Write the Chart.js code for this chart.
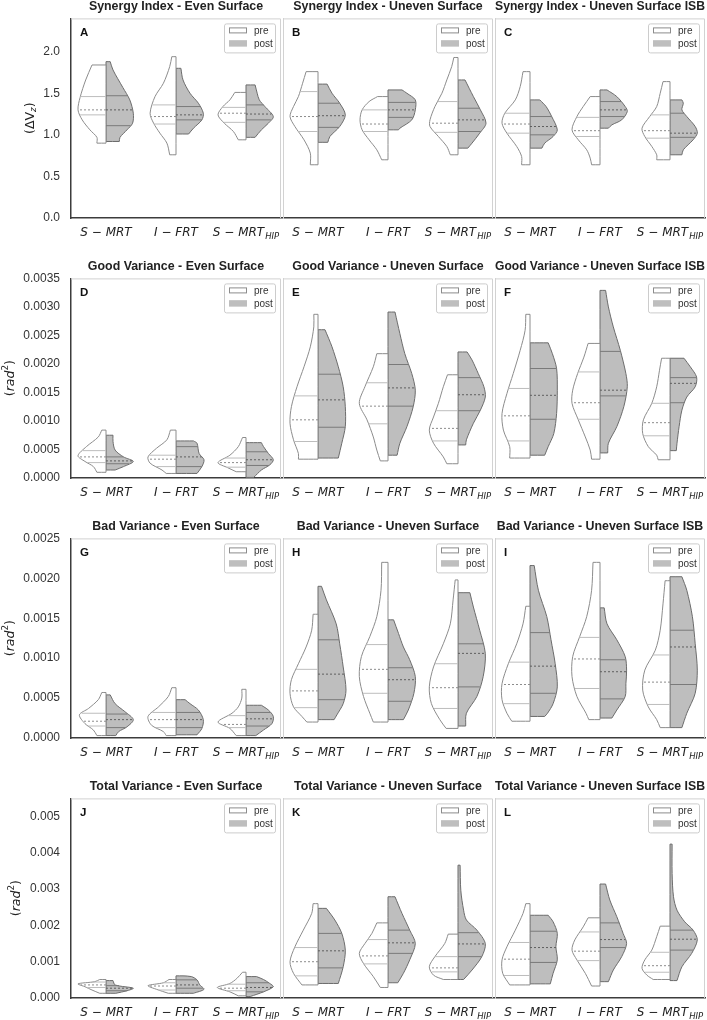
<!DOCTYPE html>
<html>
<head>
<meta charset="utf-8">
<script src="https://cdn.jsdelivr.net/npm/chart.js"></script>
<style>
  body { margin: 0; background: #fff; }
  #page { position: relative; width: 707px; height: 1020px; overflow: hidden; }
  #page canvas { position: absolute; }
</style>
</head>
<body>
<div id="page"></div>
<script>
// categories and labels
const groupNames = ['S − MRT', 'I − FRT', 'S − MRT'];
const groupSubs = ['', '', 'HIP'];
const seriesNames = ['pre', 'post'];
const panelLetters = ['A', 'B', 'C', 'D', 'E', 'F', 'G', 'H', 'I', 'J', 'K', 'L'];
const panelTitles = [
    'Synergy Index - Even Surface', 'Synergy Index - Uneven Surface', 'Synergy Index - Uneven Surface ISB',
    'Good Variance - Even Surface', 'Good Variance - Uneven Surface', 'Good Variance - Uneven Surface ISB',
    'Bad Variance - Even Surface', 'Bad Variance - Uneven Surface', 'Bad Variance - Uneven Surface ISB',
    'Total Variance - Even Surface', 'Total Variance - Uneven Surface', 'Total Variance - Uneven Surface ISB'
];
// y axes, one per row
const rowMax = [2.4, 0.0035, 0.0025, 0.0055];
const rowStep = [0.5, 0.0005, 0.0005, 0.001];
const rowDigits = [1, 4, 4, 3];
const rowUnits = ['dv', 'rad', 'rad', 'rad'];

// violin outlines: [value, half width (share of a category)] from top to bottom
// quartiles: [q75, median, q25]
const preA = [
    [[1.84, 0.20], [1.66, 0.29], [1.45, 0.37], [1.30, 0.40], [1.18, 0.34], [1.06, 0.23], [0.97, 0.13], [0.90, 0.13]],
    [[1.94, 0.06], [1.82, 0.09], [1.62, 0.18], [1.46, 0.30], [1.26, 0.37], [1.14, 0.32], [1.02, 0.23], [0.90, 0.13], [0.76, 0.09]],
    [[1.51, 0.16], [1.42, 0.23], [1.34, 0.33], [1.24, 0.40], [1.14, 0.31], [1.04, 0.18], [0.94, 0.11]]
];
const postA = [
    [[1.88, 0.06], [1.78, 0.10], [1.57, 0.24], [1.42, 0.34], [1.26, 0.39], [1.14, 0.38], [1.06, 0.30], [0.97, 0.20], [0.92, 0.19]],
    [[1.80, 0.07], [1.66, 0.10], [1.50, 0.20], [1.38, 0.32], [1.26, 0.39], [1.18, 0.37], [1.08, 0.25], [1.01, 0.18]],
    [[1.60, 0.13], [1.50, 0.16], [1.42, 0.19], [1.34, 0.27], [1.22, 0.39], [1.14, 0.32], [1.06, 0.22], [0.97, 0.13]]
];
const quartPreA = [[1.46, 1.30, 1.24], [1.36, 1.22, 1.13], [1.33, 1.26, 1.15]];
const quartPostA = [[1.47, 1.30, 1.11], [1.34, 1.24, 1.18], [1.36, 1.25, 1.18]];

const preB = [
    [[1.76, 0.17], [1.62, 0.22], [1.46, 0.28], [1.34, 0.35], [1.22, 0.40], [1.10, 0.33], [0.94, 0.20], [0.78, 0.11], [0.64, 0.11]],
    [[1.46, 0.15], [1.40, 0.27], [1.30, 0.37], [1.18, 0.40], [1.06, 0.37], [0.94, 0.27], [0.82, 0.16], [0.70, 0.09]],
    [[1.93, 0.06], [1.82, 0.09], [1.66, 0.16], [1.50, 0.23], [1.34, 0.33], [1.18, 0.40], [1.10, 0.40], [0.98, 0.28], [0.86, 0.16], [0.76, 0.11]]
];
const postB = [
    [[1.61, 0.13], [1.50, 0.20], [1.38, 0.31], [1.24, 0.39], [1.10, 0.31], [0.98, 0.17], [0.91, 0.14]],
    [[1.54, 0.20], [1.50, 0.27], [1.42, 0.39], [1.30, 0.39], [1.18, 0.34], [1.08, 0.17], [1.06, 0.15]],
    [[1.66, 0.10], [1.46, 0.22], [1.30, 0.32], [1.14, 0.40], [1.02, 0.31], [0.90, 0.20], [0.84, 0.14]]
];
const quartPreB = [[1.52, 1.22, 1.04], [1.30, 1.13, 1.04], [1.40, 1.14, 1.03]];
const quartPostB = [[1.38, 1.23, 1.09], [1.39, 1.30, 1.21], [1.32, 1.18, 1.04]];

const preC = [
    [[1.76, 0.10], [1.58, 0.14], [1.42, 0.21], [1.26, 0.36], [1.14, 0.40], [1.02, 0.33], [0.86, 0.19], [0.74, 0.12], [0.64, 0.12]],
    [[1.46, 0.14], [1.34, 0.24], [1.22, 0.33], [1.06, 0.40], [0.94, 0.31], [0.82, 0.19], [0.72, 0.14], [0.64, 0.12]],
    [[1.64, 0.10], [1.50, 0.14], [1.34, 0.19], [1.22, 0.29], [1.08, 0.40], [0.98, 0.36], [0.86, 0.26], [0.76, 0.19], [0.70, 0.19]]
];
const postC = [
    [[1.42, 0.14], [1.34, 0.23], [1.22, 0.31], [1.06, 0.39], [0.98, 0.33], [0.90, 0.21], [0.84, 0.17]],
    [[1.54, 0.10], [1.46, 0.24], [1.34, 0.36], [1.28, 0.39], [1.18, 0.31], [1.12, 0.17], [1.08, 0.12]],
    [[1.42, 0.17], [1.38, 0.19], [1.30, 0.17], [1.22, 0.24], [1.10, 0.36], [1.02, 0.39], [0.94, 0.33], [0.82, 0.19], [0.76, 0.17]]
];
const quartPreC = [[1.26, 1.13, 1.02], [1.21, 1.05, 0.98], [1.24, 1.05, 0.96]];
const quartPostC = [[1.22, 1.10, 1.00], [1.40, 1.30, 1.22], [1.26, 1.02, 0.97]];

const preD = [
    [[0.00084, 0.06], [0.00072, 0.11], [0.00055, 0.28], [0.00039, 0.40], [0.00029, 0.30], [0.00020, 0.18], [0.00010, 0.13]],
    [[0.00084, 0.08], [0.00067, 0.13], [0.00052, 0.28], [0.00037, 0.40], [0.00026, 0.37], [0.00014, 0.20], [0.00008, 0.14]],
    [[0.00071, 0.05], [0.00055, 0.11], [0.00040, 0.23], [0.00027, 0.40], [0.00018, 0.26], [0.00011, 0.14]]
];
const postD = [
    [[0.00075, 0.10], [0.00064, 0.10], [0.00049, 0.13], [0.00037, 0.25], [0.00029, 0.39], [0.00020, 0.25], [0.00014, 0.13]],
    [[0.00065, 0.25], [0.00061, 0.30], [0.00043, 0.33], [0.00032, 0.40], [0.00020, 0.37], [0.00008, 0.30]],
    [[0.00062, 0.22], [0.00055, 0.25], [0.00043, 0.32], [0.00032, 0.39], [0.00023, 0.34], [0.00014, 0.22], [0.00001, 0.11]]
];
const quartPreD = [[0.00048, 0.00037, 0.00027], [0.00040, 0.00033, 0.00020], [0.00035, 0.00027, 0.00019]];
const quartPostD = [[0.00037, 0.00030, 0.00025], [0.00055, 0.00037, 0.00020], [0.00046, 0.00032, 0.00022]];

const preE = [
    [[0.00287, 0.06], [0.00265, 0.06], [0.00230, 0.11], [0.00195, 0.20], [0.00160, 0.30], [0.00125, 0.38], [0.00096, 0.40], [0.00067, 0.35], [0.00043, 0.28], [0.00033, 0.28]],
    [[0.00218, 0.16], [0.00195, 0.21], [0.00160, 0.33], [0.00131, 0.41], [0.00102, 0.30], [0.00072, 0.21], [0.00049, 0.16], [0.00030, 0.11]],
    [[0.00181, 0.15], [0.00160, 0.21], [0.00131, 0.28], [0.00107, 0.35], [0.00084, 0.41], [0.00061, 0.35], [0.00037, 0.21], [0.00025, 0.16]]
];
const postE = [
    [[0.00260, 0.10], [0.00230, 0.20], [0.00195, 0.29], [0.00160, 0.36], [0.00125, 0.39], [0.00090, 0.39], [0.00061, 0.34], [0.00035, 0.29]],
    [[0.00291, 0.10], [0.00253, 0.17], [0.00218, 0.24], [0.00183, 0.34], [0.00154, 0.39], [0.00125, 0.36], [0.00090, 0.27], [0.00061, 0.17], [0.00040, 0.13]],
    [[0.00221, 0.13], [0.00207, 0.20], [0.00183, 0.29], [0.00160, 0.37], [0.00142, 0.39], [0.00119, 0.32], [0.00096, 0.22], [0.00067, 0.12], [0.00058, 0.11]]
];
const quartPreE = [[0.00144, 0.00102, 0.00064], [0.00167, 0.00126, 0.00095], [0.00118, 0.00087, 0.00065]];
const quartPostE = [[0.00182, 0.00137, 0.00089], [0.00199, 0.00158, 0.00126], [0.00176, 0.00146, 0.00118]];

const preF = [
    [[0.00287, 0.06], [0.00259, 0.07], [0.00224, 0.14], [0.00183, 0.24], [0.00148, 0.33], [0.00113, 0.40], [0.00084, 0.38], [0.00055, 0.29], [0.00035, 0.29]],
    [[0.00236, 0.17], [0.00212, 0.23], [0.00183, 0.32], [0.00154, 0.39], [0.00131, 0.40], [0.00102, 0.31], [0.00072, 0.21], [0.00049, 0.14], [0.00033, 0.12]],
    [[0.00210, 0.12], [0.00189, 0.15], [0.00160, 0.19], [0.00131, 0.26], [0.00102, 0.38], [0.00078, 0.39], [0.00055, 0.31], [0.00040, 0.19], [0.00032, 0.17]]
];
const postF = [
    [[0.00237, 0.26], [0.00218, 0.32], [0.00192, 0.38], [0.00154, 0.39], [0.00113, 0.38], [0.00078, 0.34], [0.00055, 0.26], [0.00040, 0.21]],
    [[0.00329, 0.08], [0.00300, 0.12], [0.00265, 0.19], [0.00224, 0.29], [0.00183, 0.37], [0.00160, 0.39], [0.00125, 0.34], [0.00090, 0.24], [0.00061, 0.12], [0.00044, 0.11]],
    [[0.00210, 0.20], [0.00195, 0.29], [0.00177, 0.38], [0.00160, 0.36], [0.00142, 0.24], [0.00119, 0.17], [0.00090, 0.13], [0.00061, 0.10], [0.00048, 0.09]]
];
const quartPreF = [[0.00157, 0.00109, 0.00065], [0.00186, 0.00132, 0.00103], [0.00131, 0.00097, 0.00074]];
const quartPostF = [[0.00192, 0.00145, 0.00103], [0.00222, 0.00154, 0.00144], [0.00176, 0.00166, 0.00132]];

const preG = [
    [[0.00057, 0.06], [0.00048, 0.11], [0.00037, 0.25], [0.00029, 0.38], [0.00018, 0.30], [0.00010, 0.18], [0.00003, 0.13]],
    [[0.00063, 0.06], [0.00052, 0.11], [0.00039, 0.25], [0.00027, 0.40], [0.00016, 0.35], [0.00008, 0.18], [0.00003, 0.14]],
    [[0.00061, 0.06], [0.00050, 0.06], [0.00039, 0.11], [0.00031, 0.20], [0.00020, 0.40], [0.00012, 0.23], [0.00003, 0.14]]
];
const postG = [
    [[0.00054, 0.06], [0.00043, 0.13], [0.00033, 0.27], [0.00023, 0.39], [0.00014, 0.30], [0.00008, 0.18], [0.00003, 0.14]],
    [[0.00048, 0.13], [0.00043, 0.20], [0.00035, 0.32], [0.00023, 0.39], [0.00012, 0.37], [0.00004, 0.30]],
    [[0.00041, 0.22], [0.00035, 0.32], [0.00027, 0.39], [0.00018, 0.37], [0.00010, 0.25], [0.00003, 0.14]]
];
const quartPreG = [[0.00031, 0.00021, 0.00015], [0.00032, 0.00023, 0.00013], [0.00028, 0.00017, 0.00013]];
const quartPostG = [[0.00030, 0.00023, 0.00013], [0.00032, 0.00023, 0.00013], [0.00032, 0.00024, 0.00015]];

const preH = [
    [[0.00155, 0.07], [0.00135, 0.09], [0.00114, 0.17], [0.00093, 0.28], [0.00073, 0.38], [0.00056, 0.40], [0.00039, 0.35], [0.00027, 0.23], [0.00020, 0.16]],
    [[0.00220, 0.09], [0.00185, 0.10], [0.00152, 0.16], [0.00127, 0.26], [0.00102, 0.38], [0.00077, 0.41], [0.00052, 0.35], [0.00031, 0.26], [0.00020, 0.21]],
    [[0.00198, 0.04], [0.00173, 0.07], [0.00143, 0.11], [0.00118, 0.21], [0.00089, 0.35], [0.00064, 0.41], [0.00043, 0.38], [0.00023, 0.26], [0.00012, 0.17]]
];
const postH = [
    [[0.00190, 0.05], [0.00173, 0.12], [0.00143, 0.26], [0.00118, 0.31], [0.00089, 0.36], [0.00060, 0.40], [0.00043, 0.36], [0.00029, 0.27], [0.00023, 0.23]],
    [[0.00148, 0.08], [0.00131, 0.15], [0.00114, 0.22], [0.00098, 0.31], [0.00077, 0.39], [0.00056, 0.37], [0.00035, 0.29], [0.00023, 0.22]],
    [[0.00182, 0.17], [0.00164, 0.22], [0.00135, 0.31], [0.00106, 0.39], [0.00077, 0.36], [0.00052, 0.27], [0.00031, 0.12], [0.00015, 0.11]]
];
const quartPreH = [[0.00086, 0.00059, 0.00038], [0.00117, 0.00086, 0.00056], [0.00093, 0.00063, 0.00037]];
const quartPostH = [[0.00123, 0.00080, 0.00048], [0.00088, 0.00073, 0.00046], [0.00118, 0.00106, 0.00064]];

const preI = [
    [[0.00165, 0.06], [0.00143, 0.10], [0.00118, 0.19], [0.00093, 0.31], [0.00068, 0.40], [0.00048, 0.40], [0.00031, 0.33], [0.00021, 0.26]],
    [[0.00220, 0.10], [0.00185, 0.12], [0.00152, 0.19], [0.00127, 0.29], [0.00102, 0.39], [0.00077, 0.40], [0.00052, 0.33], [0.00031, 0.20], [0.00023, 0.16]],
    [[0.00197, 0.07], [0.00168, 0.10], [0.00135, 0.14], [0.00110, 0.21], [0.00085, 0.36], [0.00060, 0.39], [0.00039, 0.31], [0.00023, 0.19], [0.00013, 0.14]]
];
const postI = [
    [[0.00216, 0.06], [0.00185, 0.12], [0.00152, 0.24], [0.00123, 0.30], [0.00093, 0.36], [0.00064, 0.39], [0.00043, 0.33], [0.00031, 0.25], [0.00027, 0.21]],
    [[0.00163, 0.06], [0.00143, 0.10], [0.00123, 0.24], [0.00102, 0.36], [0.00085, 0.38], [0.00068, 0.37], [0.00052, 0.36], [0.00035, 0.24], [0.00025, 0.17]],
    [[0.00202, 0.17], [0.00185, 0.24], [0.00152, 0.32], [0.00118, 0.36], [0.00085, 0.39], [0.00056, 0.36], [0.00031, 0.24], [0.00013, 0.17]]
];
const quartPreI = [[0.00095, 0.00067, 0.00043], [0.00126, 0.00099, 0.00062], [0.00104, 0.00070, 0.00042]];
const quartPostI = [[0.00132, 0.00090, 0.00056], [0.00098, 0.00083, 0.00049], [0.00135, 0.00114, 0.00067]];

const preJ = [
    [[0.00051, 0.09], [0.00045, 0.16], [0.00039, 0.40], [0.00031, 0.30], [0.00022, 0.20], [0.00013, 0.09]],
    [[0.00051, 0.10], [0.00042, 0.18], [0.00034, 0.40], [0.00024, 0.28], [0.00013, 0.11]],
    [[0.00071, 0.05], [0.00054, 0.13], [0.00040, 0.23], [0.00029, 0.41], [0.00017, 0.23], [0.00006, 0.11]]
];
const postJ = [
    [[0.00048, 0.10], [0.00036, 0.13], [0.00027, 0.39], [0.00020, 0.30], [0.00013, 0.14]],
    [[0.00061, 0.10], [0.00059, 0.22], [0.00050, 0.30], [0.00036, 0.34], [0.00024, 0.40], [0.00013, 0.25]],
    [[0.00059, 0.15], [0.00051, 0.25], [0.00040, 0.34], [0.00031, 0.39], [0.00017, 0.25], [0.00004, 0.06]]
];
const quartPreJ = [[0.00044, 0.00036, 0.00029], [0.00042, 0.00033, 0.00022], [0.00038, 0.00027, 0.00020]];
const quartPostJ = [[0.00034, 0.00027, 0.00020], [0.00050, 0.00036, 0.00027], [0.00042, 0.00029, 0.00017]];

const preK = [
    [[0.00260, 0.07], [0.00233, 0.09], [0.00187, 0.21], [0.00141, 0.33], [0.00100, 0.40], [0.00068, 0.35], [0.00036, 0.23]],
    [[0.00207, 0.16], [0.00178, 0.23], [0.00150, 0.33], [0.00123, 0.41], [0.00095, 0.35], [0.00059, 0.21], [0.00029, 0.11]],
    [[0.00176, 0.14], [0.00150, 0.19], [0.00114, 0.33], [0.00086, 0.41], [0.00063, 0.35], [0.00051, 0.21]]
];
const postK = [
    [[0.00247, 0.12], [0.00215, 0.24], [0.00178, 0.34], [0.00132, 0.39], [0.00086, 0.36], [0.00040, 0.29]],
    [[0.00279, 0.10], [0.00233, 0.20], [0.00187, 0.31], [0.00150, 0.39], [0.00105, 0.31], [0.00068, 0.22], [0.00042, 0.14]],
    [[0.00366, 0.03], [0.00297, 0.04], [0.00242, 0.08], [0.00215, 0.12], [0.00187, 0.27], [0.00150, 0.39], [0.00114, 0.34], [0.00077, 0.20], [0.00051, 0.08]]
];
const quartPreK = [[0.00139, 0.00100, 0.00061], [0.00161, 0.00116, 0.00094], [0.00114, 0.00083, 0.00072]];
const quartPostK = [[0.00178, 0.00130, 0.00083], [0.00187, 0.00152, 0.00123], [0.00180, 0.00149, 0.00114]];

const preL = [
    [[0.00260, 0.06], [0.00233, 0.10], [0.00187, 0.21], [0.00141, 0.33], [0.00105, 0.40], [0.00068, 0.39], [0.00036, 0.29]],
    [[0.00221, 0.17], [0.00196, 0.24], [0.00160, 0.36], [0.00132, 0.40], [0.00105, 0.33], [0.00068, 0.21], [0.00033, 0.12]],
    [[0.00198, 0.14], [0.00169, 0.19], [0.00132, 0.26], [0.00105, 0.36], [0.00082, 0.40], [0.00063, 0.33], [0.00051, 0.24]]
];
const postL = [
    [[0.00228, 0.26], [0.00210, 0.33], [0.00178, 0.39], [0.00141, 0.37], [0.00105, 0.39], [0.00068, 0.33], [0.00039, 0.29]],
    [[0.00314, 0.08], [0.00270, 0.14], [0.00224, 0.24], [0.00178, 0.33], [0.00150, 0.38], [0.00114, 0.31], [0.00077, 0.19], [0.00045, 0.12]],
    [[0.00424, 0.03], [0.00343, 0.03], [0.00279, 0.05], [0.00242, 0.10], [0.00210, 0.21], [0.00187, 0.33], [0.00160, 0.39], [0.00123, 0.31], [0.00086, 0.17], [0.00048, 0.10]]
];
const quartPreL = [[0.00153, 0.00107, 0.00062], [0.00182, 0.00129, 0.00103], [0.00126, 0.00089, 0.00071]];
const quartPostL = [[0.00184, 0.00139, 0.00098], [0.00207, 0.00161, 0.00139], [0.00187, 0.00162, 0.00132]];

const preAll = [preA, preB, preC, preD, preE, preF, preG, preH, preI, preJ, preK, preL];
const postAll = [postA, postB, postC, postD, postE, postF, postG, postH, postI, postJ, postK, postL];
const quartPreAll = [quartPreA, quartPreB, quartPreC, quartPreD, quartPreE, quartPreF, quartPreG, quartPreH, quartPreI, quartPreJ, quartPreK, quartPreL];
const quartPostAll = [quartPostA, quartPostB, quartPostC, quartPostD, quartPostE, quartPostF, quartPostG, quartPostH, quartPostI, quartPostJ, quartPostK, quartPostL];

// page layout
const colLeft = [71, 283, 495];
const rowTop = [18, 278, 538, 798];
const plotW = 210, plotH = 200, titleH = 18, axisH = 25;

const darkSpine = '#3c3c3c';
const lightFrame = '#d2d2d2';
const preStyle = { fill: '#ffffff', edge: '#8c8c8c', quart: '#bdbdbd', median: '#8c8c8c' };
const postStyle = { fill: '#bebebe', edge: '#6c6c6c', quart: '#7a7a7a', median: '#5e5e5e' };
const sansFont = '"Liberation Sans", Arial, sans-serif';
const mathFont = '"DejaVu Sans", sans-serif';

// width of a half violin at value q (for the quartile lines)
function widthAt(outline, q) {
    for (let i = 0; i < outline.length - 1; i++) {
        const [v1, w1] = outline[i];
        const [v2, w2] = outline[i + 1];
        if (q <= v1 && q >= v2) {
            return w1 + (w2 - w1) * (v1 - q) / (v1 - v2);
        }
    }
    return outline[outline.length - 1][1];
}

// closed half violin; the corner points are doubled so the smoothing keeps the caps straight
function halfViolin(outline, center, side, style) {
    const top = outline[0][0];
    const bottom = outline[outline.length - 1][0];
    const first = outline[0], last = outline[outline.length - 1];
    const pts = [{ x: center, y: top }, { x: center, y: top }];
    pts.push({ x: center + side * first[1], y: first[0] });
    outline.forEach(([v, w]) => pts.push({ x: center + side * w, y: v }));
    pts.push({ x: center + side * last[1], y: last[0] });
    pts.push({ x: center, y: bottom }, { x: center, y: bottom });
    pts.push({ x: center, y: top });
    return {
        data: pts, showLine: true, fill: 'shape', tension: 0.3,
        backgroundColor: style.fill, borderColor: style.edge, borderWidth: 1,
        pointRadius: 0, order: 2
    };
}

function quartileLines(outline, quarts, center, side, style) {
    return quarts.map((q, k) => ({
        data: [{ x: center, y: q }, { x: center + side * widthAt(outline, q), y: q }],
        showLine: true, fill: false,
        borderColor: k === 1 ? style.median : style.quart,
        borderWidth: 1, borderDash: k === 1 ? [2, 2] : [],
        pointRadius: 0, order: 1
    }));
}

function drawPieces(ctx, pieces, size) {
    // pieces: [text, italic, shift(-1 sub, 1 sup, 0)]
    const sub = size * 0.7;
    let total = 0;
    pieces.forEach(([t, it, sh]) => {
        ctx.font = (it ? 'italic ' : '') + (sh ? sub : size) + 'px ' + mathFont;
        total += ctx.measureText(t).width;
    });
    let x = -total / 2;
    pieces.forEach(([t, it, sh]) => {
        ctx.font = (it ? 'italic ' : '') + (sh ? sub : size) + 'px ' + mathFont;
        const dy = sh === -1 ? size * 0.28 : sh === 1 ? -size * 0.38 : 0;
        ctx.fillText(t, x, dy);
        x += ctx.measureText(t).width;
    });
}

function makeDecor(p, row, col) {
    return {
        id: 'decor' + p,
        afterDraw(chart) {
            const { ctx, chartArea: a, scales } = chart;
            ctx.save();
            // light frame top and right
            ctx.strokeStyle = lightFrame;
            ctx.lineWidth = 1;
            ctx.beginPath();
            ctx.moveTo(a.left, a.top + 0.5);
            ctx.lineTo(a.right - 0.5, a.top + 0.5);
            ctx.lineTo(a.right - 0.5, a.bottom);
            ctx.stroke();

            // panel letter
            ctx.fillStyle = '#111';
            ctx.font = 'bold 11.5px ' + sansFont;
            ctx.textBaseline = 'middle';
            ctx.textAlign = 'left';
            ctx.fillText(panelLetters[p], a.left + 9, a.top + 14.5);

            // legend
            const bw = 51, bh = 29;
            const bx = a.right - 6 - bw, by = a.top + 5;
            ctx.beginPath();
            ctx.roundRect(bx + 0.5, by + 0.5, bw, bh, 2);
            ctx.fillStyle = 'rgba(255,255,255,0.85)';
            ctx.fill();
            ctx.strokeStyle = '#cccccc';
            ctx.stroke();
            [preStyle, postStyle].forEach((st, k) => {
                const py = by + 4 + k * 13;
                ctx.fillStyle = st.fill;
                ctx.fillRect(bx + 5, py, 18, 6);
                ctx.strokeStyle = k === 0 ? st.edge : st.fill;
                ctx.strokeRect(bx + 5.5, py + 0.5, 17, 5);
                ctx.fillStyle = '#333';
                ctx.font = '10px ' + sansFont;
                ctx.fillText(seriesNames[k], bx + 30, py + 3.5);
            });

            // group labels under the x axis
            const xs = scales.x;
            ctx.fillStyle = '#222';
            groupNames.forEach((name, i) => {
                const cx = xs.getPixelForValue(i);
                const y = a.bottom + 15;
                ctx.font = 'italic 12px ' + mathFont;
                const w1 = ctx.measureText(name).width;
                ctx.font = 'italic 8.5px ' + mathFont;
                const w2 = groupSubs[i] ? ctx.measureText(groupSubs[i]).width + 1 : 0;
                const x0 = cx - (w1 + w2) / 2;
                ctx.font = 'italic 12px ' + mathFont;
                ctx.fillText(name, x0, y);
                if (groupSubs[i]) {
                    ctx.font = 'italic 8.5px ' + mathFont;
                    ctx.fillText(groupSubs[i], x0 + w1 + 1, y + 3.5);
                }
            });

            // y axis title on the first column
            if (col === 0) {
                const ys = scales.y;
                ctx.font = '12px ' + sansFont;
                const maxW = Math.max(...ys.ticks.map(t => ctx.measureText(t.label).width));
                const tx = a.left - 11 - maxW - 7 - 6;
                const ty = (a.top + a.bottom) / 2;
                ctx.translate(tx, ty);
                ctx.rotate(-Math.PI / 2);
                ctx.fillStyle = '#222';
                const pieces = rowUnits[row] === 'dv'
                    ? [['(ΔV', false, 0], ['z', true, -1], [')', false, 0]]
                    : [['(', false, 0], ['rad', true, 0], ['2', false, 1], [')', false, 0]];
                drawPieces(ctx, pieces, 12.5);
            }
            ctx.restore();
        }
    };
}

const page = document.getElementById('page');

panelTitles.forEach((title, p) => {
    const row = Math.floor(p / 3), col = p % 3;
    const left = col === 0 ? 0 : colLeft[col] - 2;
    const width = (colLeft[col] - left) + plotW + 2;
    const top = rowTop[row] - titleH;
    const height = titleH + plotH + axisH;

    const canvas = document.createElement('canvas');
    canvas.width = width;
    canvas.height = height;
    canvas.style.left = left + 'px';
    canvas.style.top = top + 'px';
    canvas.style.width = width + 'px';
    canvas.style.height = height + 'px';
    page.appendChild(canvas);

    const datasets = [];
    for (let g = 0; g < 3; g++) {
        datasets.push(halfViolin(preAll[p][g], g, -1, preStyle));
        datasets.push(halfViolin(postAll[p][g], g, 1, postStyle));
        datasets.push(...quartileLines(preAll[p][g], quartPreAll[p][g], g, -1, preStyle));
        datasets.push(...quartileLines(postAll[p][g], quartPostAll[p][g], g, 1, postStyle));
    }

    const step = rowStep[row];
    new Chart(canvas, {
        type: 'scatter',
        data: { datasets },
        options: {
            responsive: false,
            animation: false,
            devicePixelRatio: 1,
            layout: { padding: { left: col === 0 ? 0 : 2, right: 2, top: 0, bottom: 0 } },
            plugins: {
                legend: { display: false },
                tooltip: { enabled: false },
                title: {
                    display: true,
                    text: title,
                    fullSize: false,
                    color: '#222',
                    font: { family: sansFont, size: 12.4, weight: 'bold', lineHeight: 1 },
                    padding: { top: 0, bottom: 6 }
                }
            },
            scales: {
                x: {
                    type: 'linear', min: -0.5, max: 2.5,
                    grid: { display: false, drawTicks: false },
                    border: { color: darkSpine, width: 1.5 },
                    ticks: { display: false },
                    afterFit: s => { s.height = axisH; }
                },
                y: {
                    type: 'linear', min: 0, max: rowMax[row],
                    grid: { display: false, drawTicks: false },
                    border: { color: col === 0 ? darkSpine : lightFrame, width: col === 0 ? 1.5 : 1 },
                    ticks: {
                        display: col === 0,
                        stepSize: step,
                        padding: 11,
                        color: '#333',
                        font: { family: sansFont, size: 12 },
                        callback: v => v.toFixed(rowDigits[row])
                    },
                    afterBuildTicks: s => {
                        s.ticks = s.ticks.filter(t => Math.abs(t.value / step - Math.round(t.value / step)) < 1e-6);
                    },
                    afterFit: s => { s.width = col === 0 ? colLeft[0] : 0; }
                }
            }
        },
        plugins: [makeDecor(p, row, col)]
    });
});
</script>
</body>
</html>
